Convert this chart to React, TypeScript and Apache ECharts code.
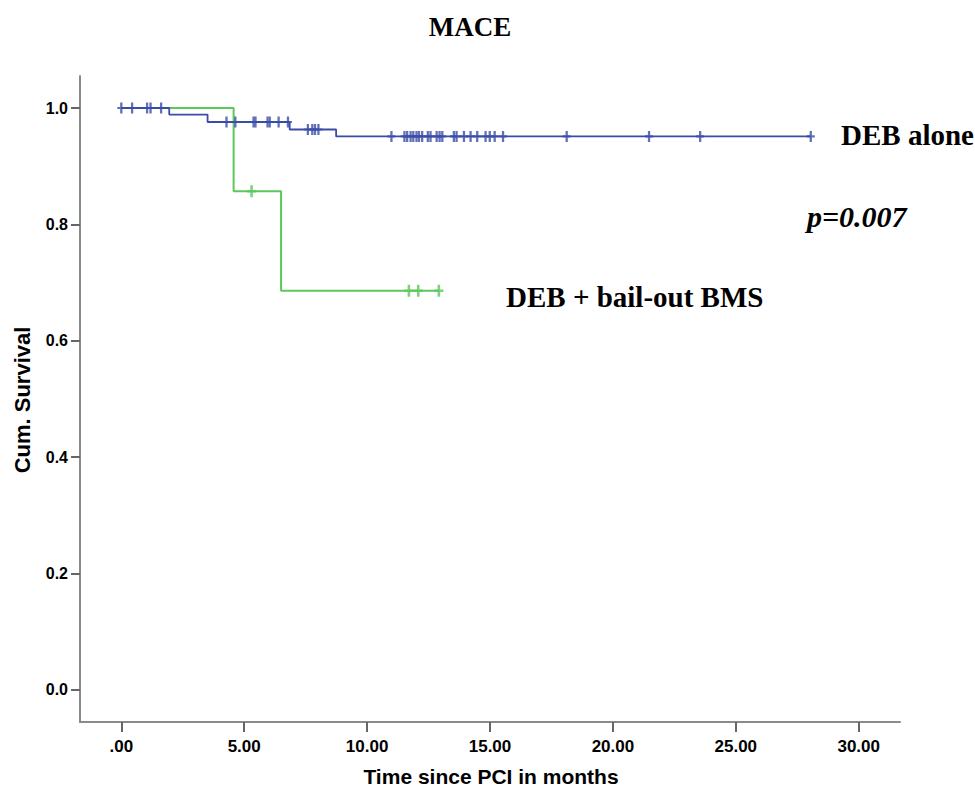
import React, { useEffect, useRef } from "react";
import * as echarts from "echarts";

// Kaplan-Meier step curves: [time in months, cumulative survival]
const blueCurve: [number, number][] = [
  [0, 1.0],
  [1.95, 0.9888],
  [3.51, 0.976],
  [6.85, 0.9631],
  [8.74, 0.9511],
  [28.05, 0.9511],
];

const greenCurve: [number, number][] = [
  [0, 1.0],
  [4.57, 0.857],
  [6.5, 0.686],
  [12.95, 0.686],
];

// Censored observations
const blueCensored: [number, number][] = [
  [0, 1.0], [0.44, 1.0], [1.05, 1.0], [1.19, 1.0], [1.62, 1.0],
  [4.28, 0.976], [4.64, 0.976], [5.38, 0.976], [5.46, 0.976], [5.95, 0.976],
  [6.04, 0.976], [6.4, 0.976], [6.78, 0.976],
  [7.59, 0.9631], [7.77, 0.9631], [7.88, 0.9631], [8.02, 0.9631],
  [10.99, 0.9511], [11.52, 0.9511], [11.63, 0.9511], [11.77, 0.9511], [11.88, 0.9511],
  [12.01, 0.9511], [12.11, 0.9511], [12.24, 0.9511], [12.47, 0.9511], [12.58, 0.9511],
  [12.83, 0.9511], [12.95, 0.9511], [13.06, 0.9511], [13.53, 0.9511], [13.64, 0.9511],
  [13.94, 0.9511], [14.21, 0.9511], [14.48, 0.9511], [14.82, 0.9511], [14.99, 0.9511],
  [15.19, 0.9511], [15.53, 0.9511], [18.12, 0.9511], [21.47, 0.9511], [23.55, 0.9511],
  [28.05, 0.9511],
];

const greenCensored: [number, number][] = [
  [5.3, 0.857],
  [11.7, 0.686],
  [12.08, 0.686],
  [12.92, 0.686],
];

const xTicks = [0, 5, 10, 15, 20, 25, 30];
const yTicks = [0, 0.2, 0.4, 0.6, 0.8, 1.0];

const titleText = "MACE";
const xAxisTitle = "Time since PCI in months";
const yAxisTitle = "Cum. Survival";
const blueLabel = "DEB alone";
const greenLabel = "DEB + bail-out BMS";
const pLabel = "p=0.007";

const BLUE = "#3a4ca6";
const GREEN = "#5cc85c";
const AXIS = "#8a8a8a";
const PLUS = "path://M3,0h2.4v4h3v2h-3v4h-2.4v-4h-3v-2h3z";

export default function App() {
  const ref = useRef<HTMLDivElement>(null);
  useEffect(() => {
    if (!ref.current) return;
    const chart = echarts.init(ref.current, null, { renderer: "svg" });
    const serif = "'Liberation Serif', 'Times New Roman', serif";
    const sans = "'Liberation Sans', Arial, sans-serif";
    chart.setOption({
      animation: false,
      backgroundColor: "#ffffff",
      grid: { left: 80, right: 75, top: 76, bottom: 68 },
      xAxis: {
        type: "value",
        min: -1.68,
        max: 31.68,
        axisLine: { show: true, onZero: false, lineStyle: { color: AXIS, width: 2 } },
        axisTick: {
          show: true,
          customValues: xTicks,
          length: 10,
          lineStyle: { color: "#666", width: 2 },
        },
        axisLabel: {
          customValues: xTicks,
          margin: 16,
          color: "#000",
          fontFamily: sans,
          fontWeight: "bold",
          fontSize: 17,
          formatter: (v: number) => (v === 0 ? ".00" : v.toFixed(2)),
        },
        splitLine: { show: false },
      },
      yAxis: {
        type: "value",
        min: -0.055,
        max: 1.055,
        axisLine: { show: true, onZero: false, lineStyle: { color: AXIS, width: 2 } },
        axisTick: {
          show: true,
          customValues: yTicks,
          length: 9,
          lineStyle: { color: "#666", width: 2 },
        },
        axisLabel: {
          customValues: yTicks,
          margin: 12,
          color: "#000",
          fontFamily: sans,
          fontWeight: "bold",
          fontSize: 16,
          formatter: (v: number) => v.toFixed(1),
        },
        splitLine: { show: false },
      },
      series: [
        {
          type: "line",
          name: greenLabel,
          step: "end",
          data: greenCurve,
          symbol: "none",
          lineStyle: { color: GREEN, width: 2 },
          z: 2,
        },
        {
          type: "scatter",
          data: greenCensored,
          symbol: PLUS,
          symbolSize: [9, 12],
          itemStyle: { color: GREEN },
          z: 3,
        },
        {
          type: "line",
          name: blueLabel,
          step: "end",
          data: blueCurve,
          symbol: "none",
          lineStyle: { color: BLUE, width: 1.8 },
          z: 4,
        },
        {
          type: "scatter",
          data: blueCensored,
          symbol: PLUS,
          symbolSize: [8, 11],
          itemStyle: { color: BLUE },
          z: 5,
        },
      ],
      graphic: [
        {
          type: "text",
          x: 470,
          y: 27,
          style: {
            text: titleText,
            font: `bold 27px ${serif}`,
            fill: "#000",
            align: "center",
            verticalAlign: "middle",
          },
        },
        {
          type: "text",
          x: 841,
          y: 135,
          style: {
            text: blueLabel,
            font: `bold 29px ${serif}`,
            fill: "#000",
            align: "left",
            verticalAlign: "middle",
          },
        },
        {
          type: "text",
          x: 807,
          y: 216,
          style: {
            text: pLabel,
            font: `italic bold 30px ${serif}`,
            fill: "#000",
            align: "left",
            verticalAlign: "middle",
          },
        },
        {
          type: "text",
          x: 506,
          y: 297,
          style: {
            text: greenLabel,
            font: `bold 29px ${serif}`,
            fill: "#000",
            align: "left",
            verticalAlign: "middle",
          },
        },
        {
          type: "text",
          x: 22,
          y: 400,
          rotation: Math.PI / 2,
          style: {
            text: yAxisTitle,
            font: `bold 22px ${sans}`,
            fill: "#000",
            align: "center",
            verticalAlign: "middle",
          },
        },
        {
          type: "text",
          x: 491,
          y: 776,
          style: {
            text: xAxisTitle,
            font: `bold 21px ${sans}`,
            fill: "#000",
            align: "center",
            verticalAlign: "middle",
          },
        },
      ],
    });
    return () => chart.dispose();
  }, []);
  return (
    <div
      ref={ref}
      style={{ position: "fixed", left: 0, top: 0, width: 975, height: 790 }}
    />
  );
}
